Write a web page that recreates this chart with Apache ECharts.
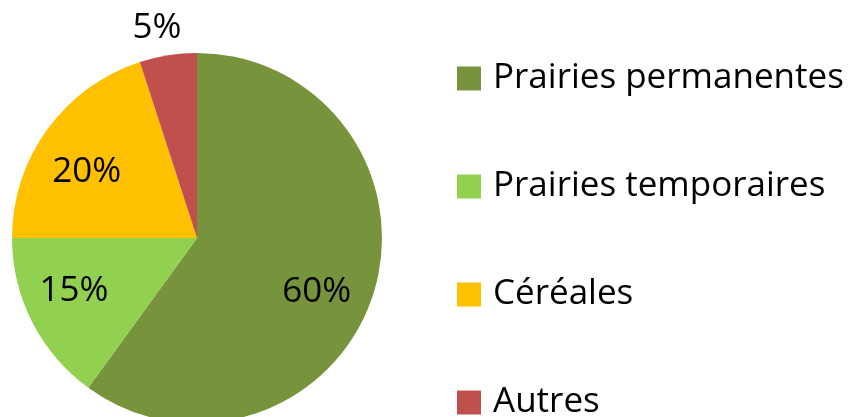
<!DOCTYPE html>
<html>
<head>
<meta charset="utf-8">
<script src="https://cdn.jsdelivr.net/npm/echarts@6/dist/echarts.min.js"></script>
<style>
    html, body { margin: 0; padding: 0; background: #fff; }
    #chart { width: 865px; height: 417px; }
</style>
</head>
<body>
<div id="chart"></div>
<script>
// données
const categories = ['Prairies permanentes', 'Prairies temporaires', 'Céréales', 'Autres'];
const values = [60, 15, 20, 5];
const colors = ['#77933C', '#92D050', '#FFC000', '#C0504D'];
// décalage des étiquettes par rapport à la position "inside"
const labelOffsets = [[29, 25], [-38, 10], [-33, -10], [-25, -116]];

(function () {
    let myChart = echarts.init(document.getElementById('chart'));
    let option = {
        color: colors,
        legend: {
            orient: 'vertical',
            left: 457,
            top: 61,
            height: 500,
            padding: 0,
            icon: 'rect',
            itemWidth: 24,
            itemHeight: 24,
            itemGap: 73,
            data: categories,
            textStyle: {
                fontFamily: 'Open Sans',
                fontSize: 35,
                color: '#000',
                padding: [0, 0, 0, 7]
            }
        },
        series: [
            {
                type: 'pie',
                center: [197, 238],
                radius: 185,
                startAngle: 90,
                clockwise: true,
                animation: false,
                label: {
                    position: 'inside',
                    formatter: '{c}%',
                    fontFamily: 'Open Sans',
                    fontSize: 35,
                    color: '#000'
                },
                labelLine: { show: false },
                emphasis: { disabled: true },
                data: categories.map((name, i) => ({
                    name: name,
                    value: values[i],
                    label: { offset: labelOffsets[i] }
                }))
            }
        ]
    };
    myChart.setOption(option);
})();
</script>
</body>
</html>
